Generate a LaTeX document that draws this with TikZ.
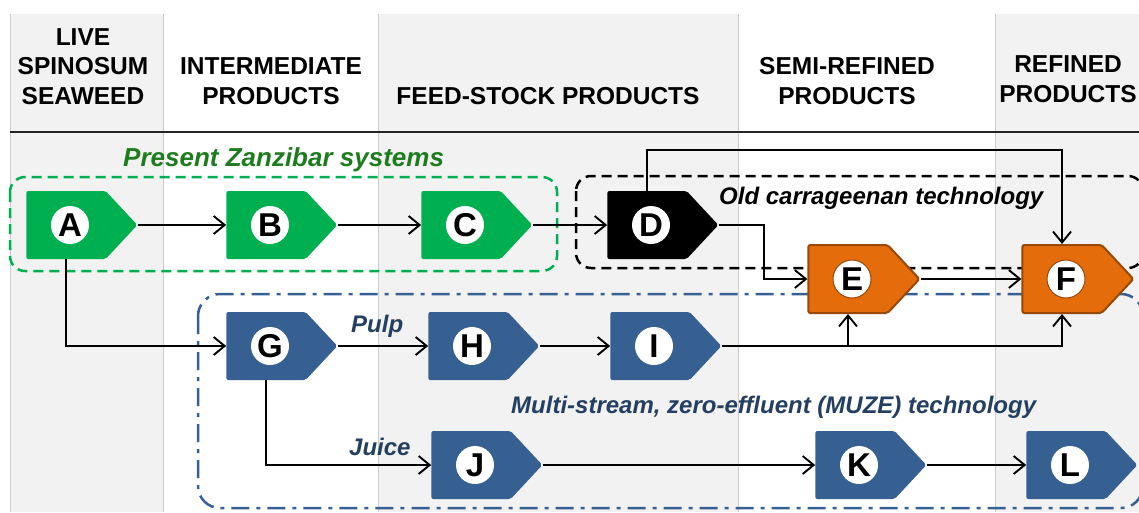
\documentclass[tikz,border=0pt]{standalone}
\usepackage{fontspec}
\setmainfont{Liberation Sans}
\usetikzlibrary{shapes.symbols,arrows.meta}
\definecolor{bandgray}{HTML}{F2F2F2}
\definecolor{sepgray}{HTML}{CCCCCC}
\definecolor{zgreen}{HTML}{00B050}
\definecolor{zgreentext}{HTML}{1E7B1E}
\definecolor{mblue}{HTML}{376092}
\definecolor{mbluetext}{HTML}{243F60}
\definecolor{orng}{HTML}{E46C0A}
\definecolor{orngedge}{HTML}{984807}
\tikzset{
  prod/.style={signal, signal to=east, signal pointer angle=94, minimum width=111pt,
    minimum height=68pt, inner sep=0pt, rounded corners=2pt, fill=#1},
  ltr/.style={circle, fill=white, minimum size=38pt, inner sep=0pt,
    font=\fontsize{33}{33}\selectfont\bfseries},
  flow/.style={line width=1.9pt, -{Straight Barb[length=11pt,width=18pt,line width=1.9pt]}},
  head/.style={font=\fontsize{24.5}{29.5}\selectfont\bfseries, align=center, inner sep=0pt},
  grp/.style={font=\fontsize{24}{28}\selectfont\bfseries\itshape, inner sep=0pt, anchor=base west},
}
\begin{document}
\begin{tikzpicture}[x=1pt,y=-1pt]
\useasboundingbox (0,0) rectangle (1139,512);
% column bands
\foreach \l/\r in {10/163,378/738,995/1139}
  \fill[bandgray] (\l,14) rectangle (\r,512);
\foreach \x in {10,163,378,738,995}
  \draw[sepgray, line width=1pt] (\x,14) -- (\x,512);
\draw[line width=1.8pt, black!85] (10,132) -- (1139,132);

% headers
\node[head, anchor=base] (h-live) at (83,104) {LIVE\\SPINOSUM\\SEAWEED};
\node[head, anchor=base] (h-inter) at (271,104) {INTERMEDIATE\\PRODUCTS};
\node[head, anchor=base] (h-feed) at (548,104) {FEED-STOCK PRODUCTS};
\node[head, anchor=base] (h-semi) at (847,104) {SEMI-REFINED\\PRODUCTS};
\node[head, anchor=base] (h-ref) at (1068,102) {REFINED\\PRODUCTS};

% group frames
\draw[zgreen, line width=2.5pt, dash pattern=on 10pt off 6pt, rounded corners=15pt]
  (10,177) rectangle (557,271);
\draw[black, line width=2.5pt, dash pattern=on 10pt off 6pt, rounded corners=15pt]
  (576,176) rectangle (1143,268);
\draw[mblue, line width=2.5pt, dash pattern=on 18pt off 7pt on 4pt off 7pt, rounded corners=22pt]
  (198,294) rectangle (1143,508);

% labels
\node[grp, text=zgreentext, font=\fontsize{26}{30}\selectfont\bfseries\itshape] (t-zanz) at (123,166) {Present Zanzibar systems};
\node[grp] (t-old) at (719,204) {Old carrageenan technology};
\node[grp, text=mbluetext] (t-pulp) at (351,332) {Pulp};
\node[grp, text=mbluetext] (t-juice) at (349,455) {Juice};
\node[grp, text=mbluetext] (t-muze) at (511,413) {Multi-stream, zero-effluent (MUZE) technology};

% products
\node[prod=zgreen] (A) at (66,225) {};
\node[prod=zgreen] (B) at (266,225) {};
\node[prod=zgreen] (C) at (461,225) {};
\node[prod=black] (D) at (647,225) {};
\node[prod=orng, draw=orngedge, line width=2pt] (E) at (848,279) {};
\node[prod=orng, draw=orngedge, line width=2pt] (F) at (1062,279) {};
\node[prod=mblue] (G) at (266,346) {};
\node[prod=mblue] (H) at (468,346) {};
\node[prod=mblue] (I) at (650,346) {};
\node[prod=mblue] (J) at (471,465) {};
\node[prod=mblue] (K) at (855,465) {};
\node[prod=mblue] (L) at (1066,465) {};
\foreach \n in {A,B,C,D,G,H,I,J,K,L}
  \node[ltr] (\n-c) at ([xshift=4pt]\n.center) {\n};
\foreach \n in {E,F}
  \node[ltr, draw=orngedge, line width=1pt] (\n-c) at ([xshift=4pt]\n.center) {\n};

% flows
\draw[flow] (A) -- (B);
\draw[flow] (B) -- (C);
\draw[flow] (C) -- (D);
\draw[flow] (D.north) -- ++(0,-41) -| (F.north);
\draw[flow] (D.east) -- ++(45,0) |- (E.west);
\draw[flow] (E) -- (F);
\draw[flow] (A.south) |- (G.west);
\draw[flow] (G) -- (H);
\draw[flow] (H) -- (I);
\draw[flow] (I.east) -| (F.south);
\draw[flow] (E.south |- I.east) -- (E.south);
\draw[flow] (G.south) |- (J.west);
\draw[flow] (J) -- (K);
\draw[flow] (K) -- (L);
\end{tikzpicture}
\end{document}
